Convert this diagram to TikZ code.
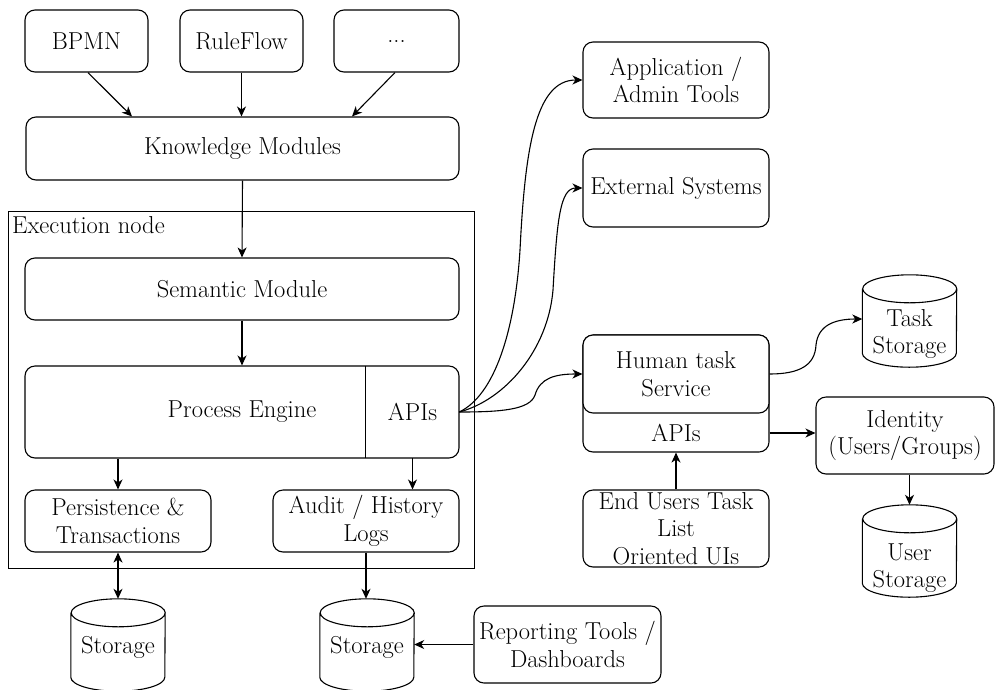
\documentclass[tikz,border=0pt]{standalone}
\usepackage{fontspec}
\usetikzlibrary{arrows.meta}
\newcommand\fs{\rmfamily\fontsize{24.5}{27.5}\selectfont}
\newcommand\drawcyl[1]{\draw[line width=1.1pt]
  ([yshift=-14pt]#1.north west) -- ([yshift=14pt]#1.south west)
  arc[start angle=180,end angle=360,x radius=47pt,y radius=14pt]
  -- ([yshift=-14pt]#1.north east)
  arc[start angle=0,end angle=180,x radius=47pt,y radius=14pt]
  arc[start angle=180,end angle=360,x radius=47pt,y radius=14pt];}
\begin{document}
\begin{tikzpicture}[x=1pt,y=-1pt,
  box/.style={draw,line width=1.1pt,rounded corners=10pt,inner sep=0pt,align=center,font=\fs},
  plain/.style={inner sep=0pt,align=center,font=\fs},
  cyl/.style={inner sep=0pt,minimum width=94pt,minimum height=92pt},
  arr/.style={line width=1.1pt,-{Stealth[length=10pt,width=9pt,inset=3pt]}},
  darr/.style={line width=1.1pt,{Stealth[length=10pt,width=9pt,inset=3pt]}-{Stealth[length=10pt,width=9pt,inset=3pt]}}]
\useasboundingbox[fill=white] (0,0) rectangle (995,689);
% top sources
\node[box,minimum width=123pt,minimum height=62pt] (bpmn) at (86.5,41) {BPMN};
\node[box,minimum width=123pt,minimum height=62pt] (rf) at (241.5,41) {RuleFlow};
\node[box,minimum width=125pt,minimum height=62pt] (dots) at (396.5,41) {...};
\node[box,minimum width=433pt,minimum height=63pt] (km) at (242.5,148.5) {Knowledge Modules};
% execution node
\node[draw,line width=0.9pt,inner sep=0pt,minimum width=466pt,minimum height=357pt] (exec) at (241,389.5) {};
\node[plain,anchor=base west] (execl) at (12,233) {Execution node};
\node[box,minimum width=434pt,minimum height=62pt] (sem) at (242,289) {Semantic Module};
\node[box,minimum width=434pt,minimum height=92pt] (pe) at (242,412) {Process Engine};
\node[plain,minimum width=93pt,minimum height=92pt] (apis) at (412.5,412) {APIs};
\draw[line width=1.1pt] (apis.north west) -- (apis.south west);
\node[box,minimum width=186pt,minimum height=62pt] (pers) at (118,521) {Persistence \&\\Transactions};
\node[box,minimum width=186pt,minimum height=62pt] (audit) at (366,521) {Audit / History\\Logs};
% storages
\node[cyl] (st1) at (118,645) {};
\drawcyl{st1}
\node[plain] (st1t) at (118,647) {Storage};
\node[cyl] (st2) at (367,645) {};
\drawcyl{st2}
\node[plain] (st2t) at (367,647) {Storage};
\node[box,minimum width=187pt,minimum height=77pt] (rep) at (567.5,644.5) {Reporting Tools /\\Dashboards};
% right side
\node[box,minimum width=186pt,minimum height=76pt] (app) at (676,80) {Application /\\Admin Tools};
\node[box,minimum width=186pt,minimum height=78pt] (ext) at (676,188) {External Systems};
\node[box,minimum width=186pt,minimum height=117pt] (htapi) at (676,393.5) {};
\node[box,fill=white,minimum width=186pt,minimum height=78pt] (ht) at (676,374) {Human task\\Service};
\node[plain] (htapit) at (676,433) {APIs};
\node[box,minimum width=186pt,minimum height=77pt] (eu) at (676,528.5) {End Users Task\\List\\Oriented UIs};
\node[cyl] (tst) at (909.5,321) {};
\drawcyl{tst}
\node[plain] (tstt) at (909.5,334) {Task\\Storage};
\node[box,minimum width=178pt,minimum height=77pt] (id) at (905,435.5) {Identity\\(Users/Groups)};
\node[cyl] (ust) at (909.5,551) {};
\drawcyl{ust}
\node[plain] (ustt) at (909.5,568) {User\\Storage};
% connectors
\draw[arr] ([xshift=1.5pt]bpmn.south) -- ([xshift=-110.5pt]km.north);
\draw[arr] (rf.south) -- (rf.south |- km.north);
\draw[arr] ([xshift=-1.5pt]dots.south) -- ([xshift=109.5pt]km.north);
\draw[arr] (km.south) -- (sem.north);
\draw[arr] (sem.south) -- (pe.north);
\draw[arr] (pers.north |- pe.south) -- (pers.north);
\draw[arr] (apis.south) -- (apis.south |- audit.north);
\draw[darr] (pers.south) -- (st1.north);
\draw[arr] (audit.south) -- (audit.south |- st2.north);
\draw[arr] (rep.west) -- (rep.west -| st2.east);
\draw[arr] (apis.east) .. controls (495,395) and (515,330) .. (520,250)
  .. controls (525,150) and (535,80) .. (app.west);
\draw[arr] (apis.east) .. controls (505,400) and (548,350) .. (553,290)
  .. controls (557,220) and (560,188) .. (ext.west);
\draw[arr] (apis.east) .. controls (500,412) and (530,410) .. (535,395)
  .. controls (540,378) and (555,374) .. (ht.west);
\draw[arr] (ht.east) .. controls (800,374) and (815,365) .. (816,345)
  .. controls (818,325) and (835,319) .. ([yshift=2pt]tst.west);
\draw[arr] (htapit -| htapi.east) -- (htapit -| id.west);
\draw[arr] (eu.north) -- (htapi.south);
\draw[arr] (ust.north |- id.south) -- (ust.north);
\end{tikzpicture}
\end{document}
